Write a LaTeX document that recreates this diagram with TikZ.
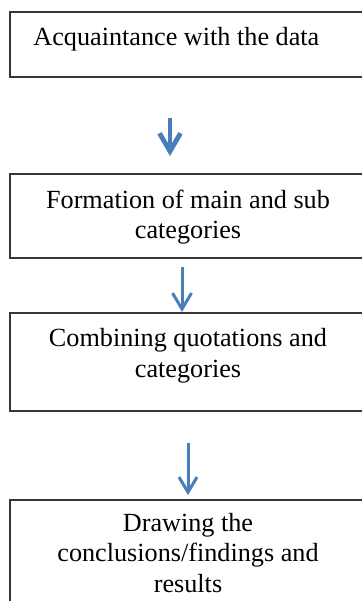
\documentclass[tikz,border=0pt]{standalone}
\usepackage{fontspec}
\setmainfont{Liberation Serif}
\usetikzlibrary{arrows.meta}

\definecolor{flowblue}{RGB}{74,126,187}
\definecolor{boxgray}{RGB}{55,55,55}

\begin{document}
\begin{tikzpicture}[x=0.5pt,y=-0.5pt,
    stagebox/.style={draw=boxgray,line width=0.7pt,rectangle,minimum width=178pt,inner sep=0pt},
    stagetext/.style={font=\fontsize{13.1}{15.3}\selectfont,align=center,inner sep=0pt},
    flow/.style={draw=flowblue,line width=1.5pt,-{Straight Barb[length=8pt,width=9.5pt]}}]
\clip (0,0) rectangle (362,601);

    \node[stagebox,minimum height=32.5pt] (S1) at (188, 44.5) {};
    \node[stagebox,minimum height=42pt] (S2) at (188, 216) {};
    \node[stagebox,minimum height=49pt] (S3) at (188, 362) {};
    \node[stagebox,minimum height=60pt] (S4) at (188, 560) {};

    \node[stagetext,anchor=base west] (T1) at (33, 45) {Acquaintance with the data};
    \node[stagetext] (T2) at (188, 217) {Formation of main and sub\\categories};
    \node[stagetext] (T3) at (188, 356) {Combining quotations and\\categories};
    \node[stagetext] (T4) at (188, 553) {Drawing the\\conclusions/findings and\\results};

    \coordinate (A1) at (170, 118);
    \coordinate (B1) at (170, 156);
    \coordinate (A2) at (182, 267);
    \coordinate (B2) at (182, 312);
    \coordinate (A3) at (188, 443);
    \coordinate (B3) at (188, 495);

    \draw[flow,line width=2.4pt,-{Straight Barb[length=9pt,width=10.5pt]}] (A1) -- (B1);
    \draw[flow] (A2) -- (B2);
    \draw[flow,-{Straight Barb[length=7.5pt,width=9pt]}] (A3) -- (B3);
\end{tikzpicture}
\end{document}
